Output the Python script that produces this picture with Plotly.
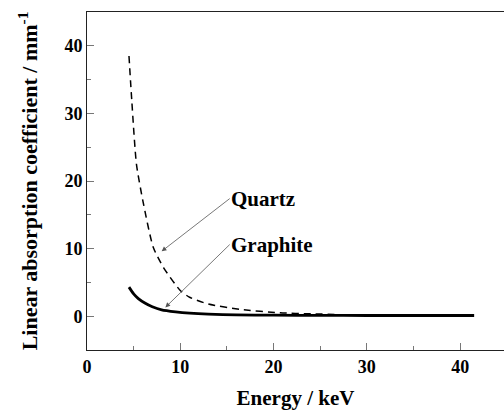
import plotly.graph_objects as go

# Linear absorption coefficient (mm^-1) versus photon energy (keV)
quartz_energy = [4.5, 4.8, 5.3, 6.0, 7.1, 8.2, 10.0, 11.0, 13.0, 16.4, 20.7, 24.0, 27.0]
quartz_mu = [38.5, 31.9, 22.5, 17.0, 10.2, 7.2, 3.8, 2.8, 1.8, 1.0, 0.5, 0.35, 0.25]

graphite_energy = [4.5, 5.0, 5.5, 6.2, 7.0, 8.0, 9.5, 11.0, 13.0, 16.0, 20.0, 25.0, 30.0, 35.0, 41.5]
graphite_mu = [4.3, 3.3, 2.6, 1.95, 1.4, 0.95, 0.65, 0.45, 0.3, 0.2, 0.15, 0.12, 0.1, 0.1, 0.1]

x_ticks = [0, 10, 20, 30, 40]
y_ticks = [0, 10, 20, 30, 40]

FONT = "Liberation Serif"

fig = go.Figure()
fig.add_trace(go.Scatter(
    x=quartz_energy, y=quartz_mu, mode="lines", name="Quartz",
    line=dict(color="black", width=1.5, dash="7px,5px", shape="spline", smoothing=0.6),
))
fig.add_trace(go.Scatter(
    x=graphite_energy, y=graphite_mu, mode="lines", name="Graphite",
    line=dict(color="black", width=2.8, shape="spline", smoothing=0.6),
))

# Labels with thin leader arrows pointing at each curve
labels = [
    dict(text="Quartz", ax=15.3, ay=17.4, hx=8.0, hy=9.6),
    dict(text="Graphite", ax=15.3, ay=10.6, hx=8.4, hy=1.3),
]
for lb in labels:
    fig.add_annotation(
        x=lb["hx"], y=lb["hy"], ax=lb["ax"], ay=lb["ay"],
        xref="x", yref="y", axref="x", ayref="y",
        text=lb["text"], showarrow=True, arrowhead=2, arrowsize=1.2,
        arrowwidth=0.8, arrowcolor="#555555",
        xanchor="left", yanchor="middle", borderpad=0,
        font=dict(family=FONT, size=21, color="black", weight="bold"),
    )

axis_common = dict(
    showgrid=False, zeroline=False, showline=True, linecolor="#222222", linewidth=1,
    ticks="inside", ticklen=7, tickwidth=1, tickcolor="#777777",
    tickfont=dict(family=FONT, size=18, color="black", weight="bold"),
)

fig.update_xaxes(
    **axis_common, range=[0, 44.7], tickvals=x_ticks, mirror=True,
    minor=dict(dtick=5, tick0=0, ticks="inside", ticklen=4, tickcolor="#777777"),
    title=dict(text="Energy / keV", standoff=14,
               font=dict(family=FONT, size=21, color="black", weight="bold")),
)
fig.update_yaxes(
    **axis_common, range=[-5, 45], tickvals=y_ticks,
    minor=dict(dtick=5, tick0=0, ticks="inside", ticklen=4, tickcolor="#777777"),
    title=dict(text="Linear absorption coefficient / mm<sup>-1</sup>", standoff=20,
               font=dict(family=FONT, size=22, color="black", weight="bold")),
)

fig.update_layout(
    width=504, height=416, showlegend=False,
    margin=dict(l=87, r=0, t=12, b=66),
    plot_bgcolor="white", paper_bgcolor="white",
)

fig.write_html("out.html")
